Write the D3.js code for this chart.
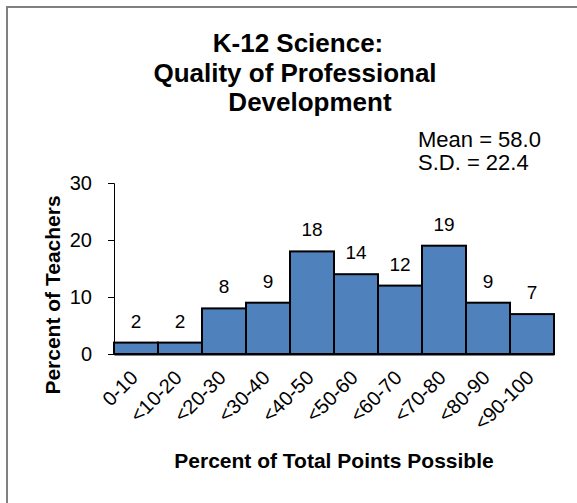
<!DOCTYPE html>
<html>
<head>
<meta charset="utf-8">
<script src="https://cdn.jsdelivr.net/npm/d3@7"></script>
<style>
  body { margin: 0; background: #fff; }
  svg { font-family: "Liberation Sans", Arial, sans-serif; }
</style>
</head>
<body>
<div id="chart"></div>
<script>
var categories = ["0-10", "<10-20", "<20-30", "<30-40", "<40-50", "<50-60", "<60-70", "<70-80", "<80-90", "<90-100"];
var values = [2, 2, 8, 9, 18, 14, 12, 19, 9, 7];
var yTicks = [0, 10, 20, 30];
var titleLines = ["K-12 Science:", "Quality of Professional", "Development"];
var statLines = ["Mean = 58.0", "S.D. = 22.4"];

var width = 577, height = 503;
var margin = {top: 183, left: 114, right: 23, bottom: 149};

var svg = d3.select("#chart")
  .append("svg")
  .attr("width", width)
  .attr("height", height);

// frame
svg.append("path")
  .attr("d", "M7,503 V7 H577")
  .attr("fill", "none")
  .attr("stroke", "#808080")
  .attr("stroke-width", 2);

var xScale = d3.scaleBand()
  .domain(categories)
  .range([margin.left, width - margin.right])
  .padding(0);

var yScale = d3.scaleLinear()
  .domain([0, 30])
  .range([height - margin.bottom, margin.top]);

// title (each line centred a little differently, like the original)
var titleX = [298, 295, 310];
svg.append("text")
  .attr("y", 52)
  .attr("text-anchor", "middle")
  .attr("font-weight", "bold")
  .attr("font-size", 26)
  .selectAll("tspan")
  .data(titleLines)
  .enter()
  .append("tspan")
    .attr("x", function(d, i) { return titleX[i]; })
    .attr("dy", function(d, i) { return i == 0 ? 0 : 29.5; })
    .text(function(d) { return d; });

// mean / sd
svg.append("text")
  .attr("x", 418)
  .attr("y", 147)
  .attr("font-size", 22)
  .selectAll("tspan")
  .data(statLines)
  .enter()
  .append("tspan")
    .attr("x", 418)
    .attr("dy", function(d, i) { return i == 0 ? 0 : 23; })
    .text(function(d) { return d; });

// bars
svg.selectAll("rect.bar")
  .data(values)
  .enter()
  .append("rect")
    .attr("class", "bar")
    .attr("x", function(d, i) { return xScale(categories[i]); })
    .attr("y", function(d) { return yScale(d); })
    .attr("width", xScale.bandwidth())
    .attr("height", function(d) { return yScale(0) - yScale(d); })
    .attr("fill", "#4f81bd")
    .attr("stroke", "#000")
    .attr("stroke-width", 2);

// value labels
svg.selectAll("text.val")
  .data(values)
  .enter()
  .append("text")
    .attr("class", "val")
    .attr("x", function(d, i) { return xScale(categories[i]) + xScale.bandwidth() / 2; })
    .attr("y", function(d) { return yScale(d) - 15; })
    .attr("text-anchor", "middle")
    .attr("font-size", 19)
    .text(function(d) { return d; });

// y axis
var yAxis = svg.append("g")
  .attr("transform", `translate(${margin.left},0)`)
  .call(d3.axisLeft(yScale).tickValues(yTicks).tickSize(6).tickSizeOuter(6).tickPadding(16));
yAxis.select(".domain").attr("stroke", "#000").attr("stroke-width", 1);
yAxis.selectAll(".tick line").attr("stroke", "#000");
yAxis.selectAll("text").attr("font-size", 20).attr("font-family", null).attr("fill", "#000");

// x axis
var xAxis = svg.append("g")
  .attr("transform", `translate(0,${yScale(0)})`)
  .call(d3.axisBottom(xScale).tickSize(0).tickSizeOuter(0));
xAxis.select(".domain").attr("stroke", "#000").attr("stroke-width", 2);
xAxis.selectAll("text")
  .attr("font-size", 20)
  .attr("font-family", null)
  .attr("fill", "#000")
  .attr("text-anchor", "end")
  .attr("dy", null)
  .attr("y", 0)
  .attr("transform", "translate(3,25) rotate(-45)");

// axis titles
svg.append("text")
  .attr("x", 334)
  .attr("y", 468)
  .attr("text-anchor", "middle")
  .attr("font-weight", "bold")
  .attr("font-size", 21)
  .text("Percent of Total Points Possible");

svg.append("text")
  .attr("transform", "translate(60,295) rotate(-90)")
  .attr("text-anchor", "middle")
  .attr("font-weight", "bold")
  .attr("font-size", 21)
  .text("Percent of Teachers");
</script>
</body>
</html>
